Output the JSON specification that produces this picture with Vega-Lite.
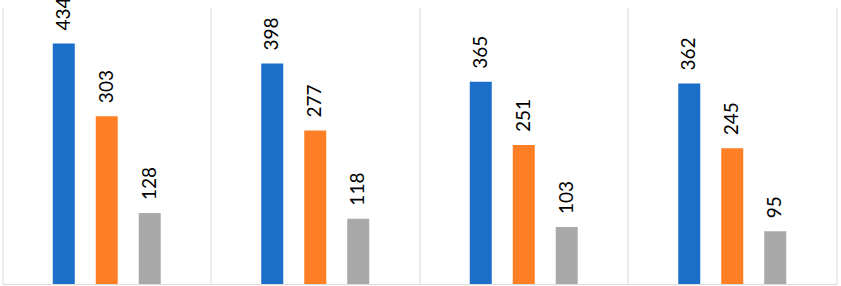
{
  "$schema": "https://vega.github.io/schema/vega-lite/v6.json",
  "autosize": "none",
  "width": 834,
  "height": 277,
  "padding": {"left": 2.5, "top": 7, "right": 4.5, "bottom": 2},
  "background": "white",
  "config": {"view": {"stroke": null}},
  "data": {
    "values": [
      {"group": "G1", "series": "A", "value": 434},
      {"group": "G1", "series": "B", "value": 303},
      {"group": "G1", "series": "C", "value": 128},
      {"group": "G2", "series": "A", "value": 398},
      {"group": "G2", "series": "B", "value": 277},
      {"group": "G2", "series": "C", "value": 118},
      {"group": "G3", "series": "A", "value": 365},
      {"group": "G3", "series": "B", "value": 251},
      {"group": "G3", "series": "C", "value": 103},
      {"group": "G4", "series": "A", "value": 362},
      {"group": "G4", "series": "B", "value": 245},
      {"group": "G4", "series": "C", "value": 95}
    ]
  },
  "encoding": {
    "x": {
      "field": "group",
      "type": "nominal",
      "scale": {"paddingInner": 0, "paddingOuter": 0},
      "axis": {
        "title": null,
        "labels": false,
        "ticks": false,
        "domain": true,
        "domainColor": "#d9d9d9",
        "grid": true,
        "gridColor": "#d9d9d9",
        "bandPosition": 0
      }
    },
    "xOffset": {
      "field": "series",
      "type": "nominal",
      "scale": {"paddingInner": 0.15, "paddingOuter": 1}
    },
    "y": {
      "field": "value",
      "type": "quantitative",
      "scale": {"domain": [0, 500], "nice": false},
      "axis": {
        "orient": "right",
        "title": null,
        "labels": false,
        "ticks": false,
        "grid": false,
        "domain": true,
        "domainColor": "#d9d9d9"
      }
    }
  },
  "layer": [
    {
      "mark": {"type": "bar", "width": 22},
      "encoding": {
        "color": {
          "field": "series",
          "type": "nominal",
          "scale": {"domain": ["A", "B", "C"], "range": ["#1C6FC9", "#FF7F26", "#A9A9A9"]},
          "legend": null
        }
      }
    },
    {
      "mark": {
        "type": "text",
        "angle": 270,
        "align": "left",
        "baseline": "middle",
        "dx": 13,
        "font": "Lato",
        "fontSize": 19,
        "color": "#000000"
      },
      "encoding": {
        "text": {"field": "value", "type": "quantitative"}
      }
    }
  ]
}
